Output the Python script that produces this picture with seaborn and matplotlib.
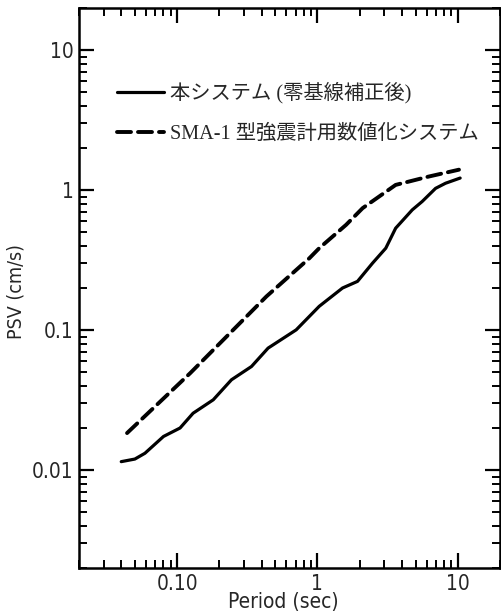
import matplotlib
matplotlib.use("Agg")
import matplotlib.pyplot as plt
import matplotlib.ticker as mticker
import seaborn as sns
import pandas as pd
import numpy as np

# ---- data ----
period_new = [0.040, 0.050, 0.059, 0.080, 0.105, 0.130, 0.181, 0.244, 0.339, 0.445,
              0.706, 1.03, 1.51, 1.93, 2.47, 3.07, 3.61, 4.74, 5.58, 6.95, 8.18, 10.4]
psv_new = [0.0115, 0.0120, 0.0132, 0.0174, 0.0200, 0.0255, 0.0318, 0.0442, 0.0550, 0.0744,
           0.1005, 0.148, 0.200, 0.223, 0.301, 0.385, 0.535, 0.723, 0.830, 1.03, 1.12, 1.22]

period_sma = [0.044, 0.124, 0.433, 0.878, 1.03, 1.60, 2.10, 3.61, 6.2, 10.2]
psv_sma = [0.0184, 0.0493, 0.174, 0.327, 0.385, 0.565, 0.744, 1.09, 1.25, 1.40]

label_new = "本システム (零基線補正後)"
label_sma = "SMA-1 型強震計用数値化システム"

xticks = [0.1, 1, 10]
xticklabels = ["0.10", "1", "10"]
yticks = [0.01, 0.1, 1, 10]
yticklabels = ["0.01", "0.1", "1", "10"]

sns.set_style("ticks")
plt.rcParams['font.family'] = ['DejaVu Sans']
plt.rcParams['font.stretch'] = 'condensed'

fig = plt.figure(figsize=(5.01, 6.15), dpi=100)
ax = fig.add_axes([79 / 501, 47 / 615, 421 / 501, 560 / 615])

df_new = pd.DataFrame({"Period": period_new, "PSV": psv_new})
df_sma = pd.DataFrame({"Period": period_sma, "PSV": psv_sma})

sns.lineplot(data=df_new, x="Period", y="PSV", ax=ax, color="black", lw=2.3,
             label=label_new, solid_capstyle="round", solid_joinstyle="round", sort=False)
sns.lineplot(data=df_sma, x="Period", y="PSV", ax=ax, color="black", lw=2.8,
             label=label_sma, sort=False)
ax.lines[1].set_dashes((3.6, 1.8))
ax.lines[1].set_dash_capstyle("round")

ax.set_xscale("log")
ax.set_yscale("log")
ax.set_xlim(0.02, 20)
ax.set_ylim(0.002, 20)

ax.xaxis.set_major_locator(mticker.FixedLocator(xticks))
ax.xaxis.set_major_formatter(mticker.FixedFormatter(xticklabels))
ax.yaxis.set_major_locator(mticker.FixedLocator(yticks))
ax.yaxis.set_major_formatter(mticker.FixedFormatter(yticklabels))
ax.xaxis.set_minor_locator(mticker.LogLocator(base=10, subs=np.arange(2, 10)))
ax.yaxis.set_minor_locator(mticker.LogLocator(base=10, subs=np.arange(2, 10)))
ax.xaxis.set_minor_formatter(mticker.NullFormatter())
ax.yaxis.set_minor_formatter(mticker.NullFormatter())

ax.tick_params(which="both", direction="in", top=True, right=True, color="black")
ax.tick_params(which="major", length=11, width=1.6, labelsize=15, pad=4)
ax.tick_params(which="minor", length=6, width=1.4)
for s in ax.spines.values():
    s.set_linewidth(1.8)
    s.set_color("black")

ax.set_xlabel("Period (sec)", fontsize=15)
ax.set_ylabel("PSV (cm/s)", fontsize=14)
ax.xaxis.set_label_coords(0.5 + (283 - 289.5) / 421, -(602 - 568) / 560)
ax.yaxis.set_label_coords(-(79 - 16) / 421, 0.5 + (288 - 292) / 560)
ax.xaxis.label.set_va("center")
ax.yaxis.label.set_va("center")

leg = ax.legend(loc="upper left", bbox_to_anchor=((117 - 79) / 421, 1 - (82 - 8) / 560),
                frameon=False, borderpad=0, borderaxespad=0,
                handlelength=2.3, handletextpad=0.3, labelspacing=1.05,
                prop={"family": ["Liberation Serif", "Noto Sans CJK JP"], "size": 14.6,
                      "stretch": "normal"})

fig.savefig("out.png", dpi=100)
